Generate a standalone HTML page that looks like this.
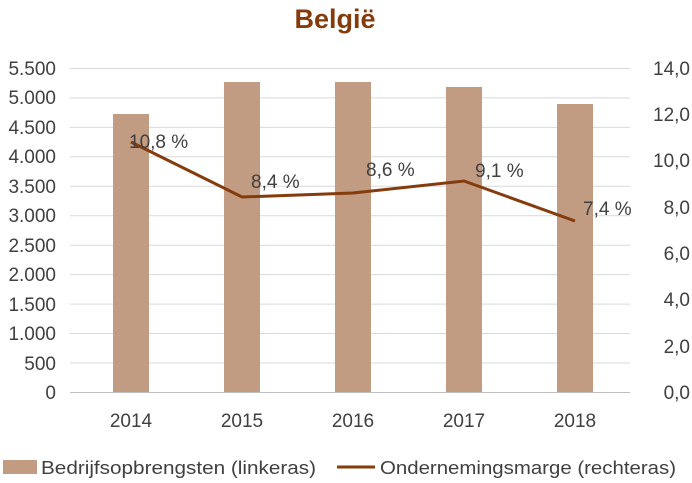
<!DOCTYPE html>
<html><head><meta charset="utf-8"><style>
body{margin:0;background:#fff;}
svg{display:block;font-family:"Liberation Sans",sans-serif;}
</style></head><body>
<svg width="692" height="483" viewBox="0 0 692 483">
<text x="335" y="28" text-anchor="middle" font-size="27" font-weight="bold" fill="#843C0C">België</text>
<g stroke="#d9d9d9" stroke-width="1">
<line x1="70" x2="630" y1="68.5" y2="68.5"/>
<line x1="70" x2="630" y1="97.9" y2="97.9"/>
<line x1="70" x2="630" y1="127.4" y2="127.4"/>
<line x1="70" x2="630" y1="156.8" y2="156.8"/>
<line x1="70" x2="630" y1="186.3" y2="186.3"/>
<line x1="70" x2="630" y1="215.7" y2="215.7"/>
<line x1="70" x2="630" y1="245.2" y2="245.2"/>
<line x1="70" x2="630" y1="274.6" y2="274.6"/>
<line x1="70" x2="630" y1="304.1" y2="304.1"/>
<line x1="70" x2="630" y1="333.5" y2="333.5"/>
<line x1="70" x2="630" y1="363" y2="363"/>
</g>
<g fill="#C19C82">
<rect x="113" y="114" width="36" height="278"/>
<rect x="224" y="82" width="36" height="310"/>
<rect x="335" y="82" width="36" height="310"/>
<rect x="446" y="87" width="36" height="305"/>
<rect x="557" y="104" width="36" height="288"/>
</g>
<line x1="70" x2="630" y1="392.5" y2="392.5" stroke="#bfbfbf"/>
<polyline points="131,142 242,197 353,193 464,181 575,221" fill="none" stroke="#843C0C" stroke-width="3"/>
<g font-size="19" fill="#404040">
<text x="129" y="148">10,8 %</text>
<text x="251" y="188">8,4 %</text>
<text x="366" y="176">8,6 %</text>
<text x="475" y="177">9,1 %</text>
<text x="583" y="215">7,4 %</text>
</g>
<g font-size="19" fill="#404040" text-anchor="end">
<text x="56" y="75">5.500</text><text x="56" y="104">5.000</text><text x="56" y="134">4.500</text>
<text x="56" y="163">4.000</text><text x="56" y="193">3.500</text><text x="56" y="222">3.000</text>
<text x="56" y="252">2.500</text><text x="56" y="281">2.000</text><text x="56" y="311">1.500</text>
<text x="56" y="340">1.000</text><text x="56" y="370">500</text><text x="56" y="399">0</text>
</g>
<g font-size="19" fill="#404040" text-anchor="end">
<text x="690" y="75">14,0</text><text x="690" y="121">12,0</text><text x="690" y="167">10,0</text>
<text x="690" y="214">8,0</text><text x="690" y="260">6,0</text><text x="690" y="306">4,0</text>
<text x="690" y="353">2,0</text><text x="690" y="399">0,0</text>
</g>
<g font-size="19" fill="#404040" text-anchor="middle">
<text x="131" y="427">2014</text><text x="242" y="427">2015</text><text x="353" y="427">2016</text>
<text x="464" y="427">2017</text><text x="575" y="427">2018</text>
</g>
<rect x="3" y="460" width="34" height="14" fill="#C19C82"/>
<text x="41" y="474" font-size="18" fill="#404040" textLength="275" lengthAdjust="spacingAndGlyphs">Bedrijfsopbrengsten (linkeras)</text>
<line x1="337" x2="375" y1="467" y2="467" stroke="#843C0C" stroke-width="3"/>
<text x="380" y="474" font-size="18" fill="#404040" textLength="296" lengthAdjust="spacingAndGlyphs">Ondernemingsmarge (rechteras)</text>
</svg>
</body></html>
